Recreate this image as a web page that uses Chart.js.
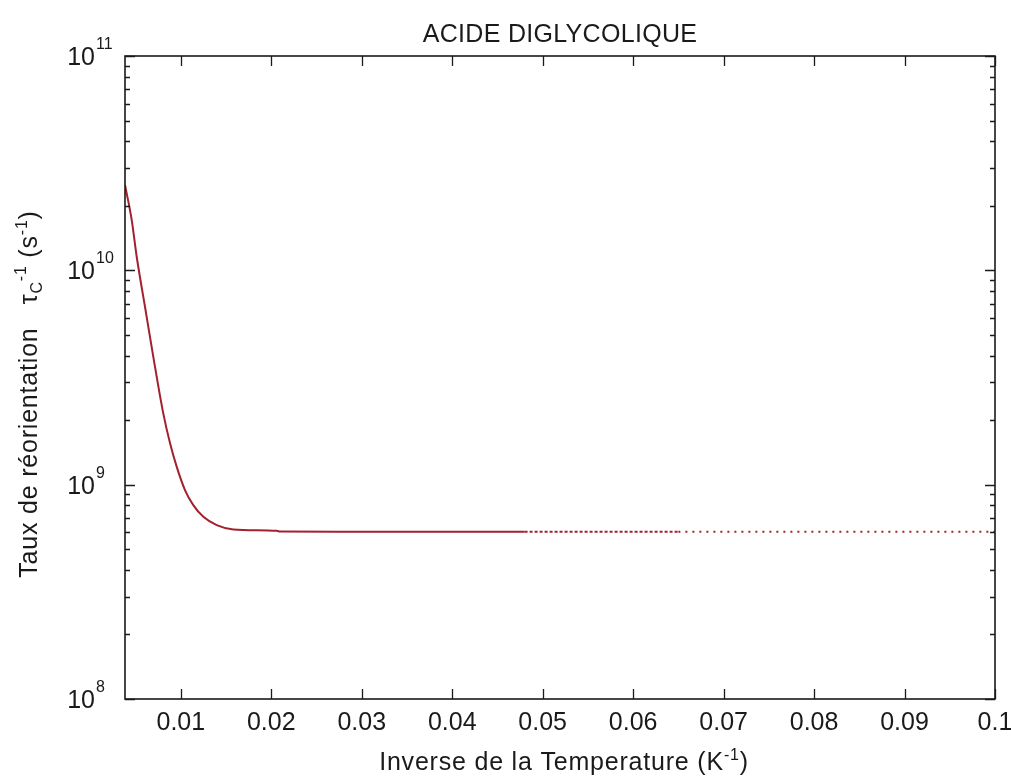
<!DOCTYPE html>
<html>
<head>
<meta charset="utf-8">
<script src="https://cdn.jsdelivr.net/npm/chart.js@4.4.1/dist/chart.umd.min.js"></script>
<style>
  html, body { margin: 0; padding: 0; background: #fff; }
  #wrap { width: 1011px; height: 776px; }
</style>
</head>
<body>
<div id="wrap"><canvas id="chart" width="1011" height="776"></canvas></div>
<script>
// Data (inverse temperature in K^-1, rate in s^-1)
const invT = [0.00383, 0.00457, 0.00512, 0.00604, 0.00696, 0.00806, 0.00881, 0.00955,
  0.01046, 0.01138, 0.01249, 0.01397, 0.01581, 0.0206, 0.021, 0.03, 0.048, 0.065, 0.1];
const rate = [2.5e10, 1.72e10, 1.16e10, 6.76e9, 3.95e9, 2.15e9, 1.56e9, 1.21e9,
  9.44e8, 8.03e8, 7.08e8, 6.48e8, 6.18e8, 6.09e8, 6.04e8, 6.03e8, 6.03e8, 6.03e8, 6.03e8];

// Axis ticks
const xTicks = [0.01, 0.02, 0.03, 0.04, 0.05, 0.06, 0.07, 0.08, 0.09, 0.1];
const xTickLabels = ['0.01', '0.02', '0.03', '0.04', '0.05', '0.06', '0.07', '0.08', '0.09', '0.1'];
const yDecades = [1e8, 1e9, 1e10, 1e11];
const yExponents = ['8', '9', '10', '11'];
const minorFactors = [2, 3, 4, 5, 6, 7, 8, 9];

const FONT = '"Liberation Sans", Arial, sans-serif';
const INK = '#1a1a1a';

// draw a run of text pieces with different sizes / vertical offsets
function drawRich(ctx, parts, x, y, align, spacing) {
  ctx.letterSpacing = (spacing || 0) + 'px';
  let total = 0;
  parts.forEach(p => {
    ctx.font = p.size + 'px ' + FONT;
    p.w = ctx.measureText(p.t).width;
    total += p.w;
  });
  let cx = x;
  if (align === 'center') cx = x - total / 2;
  if (align === 'right') cx = x - total;
  ctx.textAlign = 'left';
  ctx.textBaseline = 'alphabetic';
  parts.forEach(p => {
    ctx.font = p.size + 'px ' + FONT;
    ctx.fillText(p.t, cx, y + (p.dy || 0));
    cx += p.w;
  });
  ctx.letterSpacing = '0px';
}

const matlabAxes = {
  id: 'matlabAxes',
  afterDraw(chart) {
    const { ctx, chartArea: a, scales } = chart;
    const xs = scales.x, ys = scales.y;
    ctx.save();
    ctx.strokeStyle = INK;
    ctx.fillStyle = INK;

    // ticks, inside, mirrored
    ctx.lineWidth = 1.3;
    ctx.beginPath();
    xTicks.forEach(v => {
      const px = Math.round(xs.getPixelForValue(v)) + 0.5;
      ctx.moveTo(px, a.bottom); ctx.lineTo(px, a.bottom - 10);
      ctx.moveTo(px, a.top); ctx.lineTo(px, a.top + 10);
    });
    yDecades.forEach((d, i) => {
      const py = Math.round(ys.getPixelForValue(d)) + 0.5;
      ctx.moveTo(a.left, py); ctx.lineTo(a.left + 10, py);
      ctx.moveTo(a.right, py); ctx.lineTo(a.right - 10, py);
      if (i < yDecades.length - 1) {
        minorFactors.forEach(f => {
          const pm = Math.round(ys.getPixelForValue(d * f)) + 0.5;
          ctx.moveTo(a.left, pm); ctx.lineTo(a.left + 5, pm);
          ctx.moveTo(a.right, pm); ctx.lineTo(a.right - 5, pm);
        });
      }
    });
    ctx.stroke();

    // frame
    ctx.lineWidth = 1.6;
    ctx.strokeRect(a.left, a.top, a.right - a.left, a.bottom - a.top);

    // x tick labels
    ctx.font = '25px ' + FONT;
    ctx.textAlign = 'center';
    ctx.textBaseline = 'alphabetic';
    xTicks.forEach((v, i) => {
      ctx.fillText(xTickLabels[i], xs.getPixelForValue(v), 730);
    });

    // y tick labels 10^n
    yDecades.forEach((d, i) => {
      const py = ys.getPixelForValue(d);
      ctx.font = '25px ' + FONT;
      ctx.textAlign = 'right';
      ctx.fillText('10', 95, py + 9);
      ctx.font = '16px ' + FONT;
      ctx.textAlign = 'left';
      ctx.fillText(yExponents[i], 96, py - 7);
    });

    // title
    drawRich(ctx, [{ t: 'ACIDE DIGLYCOLIQUE', size: 25 }], (a.left + a.right) / 2, 42, 'center', 0.3);

    // x axis title
    drawRich(ctx, [
      { t: 'Inverse de la Temperature (K', size: 25 },
      { t: '-1', size: 16, dy: -10 },
      { t: ')', size: 25 }
    ], 564, 770, 'center', 0.8);

    // y axis title (rotated)
    ctx.save();
    ctx.translate(37, 394);
    ctx.rotate(-Math.PI / 2);
    drawRich(ctx, [
      { t: 'Taux de réorientation   τ', size: 25 },
      { t: 'C', size: 16, dy: 5 },
      { t: '-1', size: 16, dy: -11 },
      { t: ' (s', size: 25 },
      { t: '-1', size: 16, dy: -10 },
      { t: ')', size: 25 }
    ], 0, 0, 'center', 0.8);
    ctx.restore();

    ctx.restore();
  }
};

const points = invT.map((v, i) => ({ x: v, y: rate[i] }));

new Chart(document.getElementById('chart').getContext('2d'), {
  type: 'line',
  data: {
    datasets: [{
      data: points,
      borderColor: '#a3202e',
      borderWidth: 2,
      pointRadius: 0,
      fill: false,
      cubicInterpolationMode: 'monotone',
      segment: {
        // points get sparse at low temperature: draw that part dotted
        borderDash: c => c.p0.parsed.x >= 0.065 ? [2, 5] : (c.p0.parsed.x >= 0.048 ? [3, 2] : undefined)
      }
    }]
  },
  options: {
    responsive: false,
    animation: false,
    layout: { padding: { top: 56, right: 16, left: 0, bottom: 0 } },
    plugins: { legend: { display: false }, tooltip: { enabled: false } },
    scales: {
      x: {
        type: 'linear', min: 0.00383, max: 0.1,
        grid: { display: false }, border: { display: false }, ticks: { display: false },
        afterFit(s) { s.height = 77; }
      },
      y: {
        type: 'logarithmic', min: 1e8, max: 1e11,
        grid: { display: false }, border: { display: false }, ticks: { display: false },
        afterFit(s) { s.width = 125; }
      }
    }
  },
  plugins: [matlabAxes]
});
</script>
</body>
</html>
